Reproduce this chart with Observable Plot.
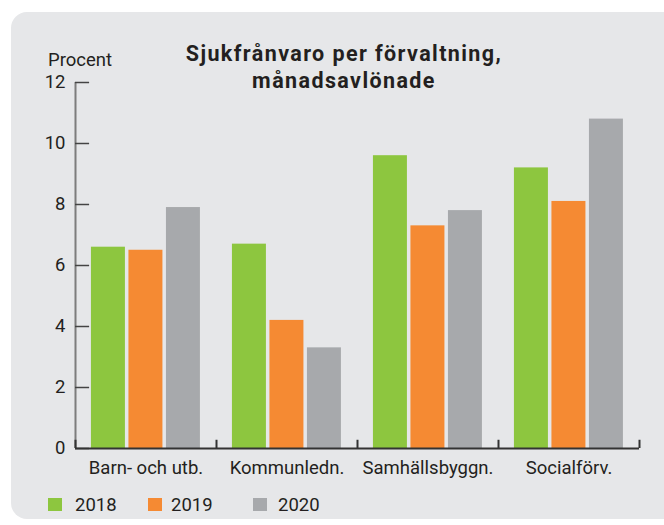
<!DOCTYPE html>
<html>
<head>
<meta charset="utf-8">
<script src="https://cdn.jsdelivr.net/npm/d3@7"></script>
<script src="https://cdn.jsdelivr.net/npm/@observablehq/plot@0.6"></script>
<style>
  html, body { margin: 0; padding: 0; background: #ffffff; }
  #wrap { position: relative; width: 664px; height: 525px; overflow: hidden; font-family: Roboto, sans-serif; color: #231f20; }
  #panel { position: absolute; left: 11px; top: 12px; width: 700px; height: 507px; border-radius: 16px; background: #e6e7e9; }
  #chart { position: absolute; left: 0; top: 0; }
  #title { position: absolute; left: 94px; width: 500px; top: 40px; text-align: center; font-weight: bold; font-size: 21.5px; letter-spacing: 1.4px; line-height: 27px; color: #231f20; white-space: nowrap; }
  #ylab { position: absolute; left: 48px; top: 50px; font-size: 18.5px; line-height: 20px; color: #231f20; }
  #legend { position: absolute; left: 0; top: 0; width: 664px; height: 525px; pointer-events: none; }
  .sw { position: absolute; width: 14px; height: 13px; top: 498px; }
  .lt { position: absolute; top: 495px; font-size: 18.5px; line-height: 20px; color: #231f20; }
</style>
</head>
<body>
<div id="wrap">
  <div id="panel"></div>
  <div id="chart"></div>
  <div id="ylab">Procent</div>
  <div id="title">Sjukfrånvaro per förvaltning,<br>månadsavlönade</div>
  <div id="legend"></div>
</div>
<script>
const categories = ["Barn- och utb.", "Kommunledn.", "Samhällsbyggn.", "Socialförv."];
const years = ["2018", "2019", "2020"];
const values2018 = [6.6, 6.7, 9.6, 9.2];
const values2019 = [6.5, 4.2, 7.3, 8.1];
const values2020 = [7.9, 3.3, 7.8, 10.8];
const yTicks = [0, 2, 4, 6, 8, 10, 12];
const colors = ["#8dc63f", "#f58a33", "#a7a9ac"];

const series = [values2018, values2019, values2020];
// layout within each category band (fractions of the band)
const pad = 0.113, barW = 0.241, gap = 0.025;
const rows = [];
categories.forEach((c, ci) => {
  years.forEach((yr, yi) => {
    const x1 = ci + pad + yi * (barW + gap);
    rows.push({category: c, year: yr, value: series[yi][ci], x1, x2: x1 + barW});
  });
});

const chart = Plot.plot({
  width: 664,
  height: 490,
  marginLeft: 75,
  marginRight: 25,
  marginTop: 82,
  marginBottom: 42,
  style: {fontFamily: "Roboto, sans-serif", fontSize: "18.5px", color: "#231f20", background: "transparent"},
  x: {domain: [0, categories.length], axis: null},
  y: {domain: [0, 12], axis: null},
  color: {domain: years, range: colors},
  marks: [
    Plot.rect(rows, {x1: "x1", x2: "x2", y1: 0, y2: "value", fill: "year"}),
    Plot.ruleX([0], {y1: 0, y2: 12, stroke: "#7d7d7d", strokeWidth: 2}),
    Plot.ruleY(yTicks, {x1: 0, x2: 0.1, stroke: "#444", strokeWidth: 1.5}),
    Plot.ruleY([0], {x1: 0, x2: categories.length, stroke: "#333", strokeWidth: 2}),
    Plot.ruleX(d3.range(categories.length + 1), {y1: 0, y2: 0.27, stroke: "#333", strokeWidth: 2}),
    Plot.axisY({ticks: yTicks, label: null, tickSize: 0, tickPadding: 10, fontSize: 18.5, fill: "#231f20"}),
    Plot.axisX({ticks: categories.map((c, i) => i + 0.5), label: null, tickFormat: d => categories[Math.round(d - 0.5)], tickSize: 0, tickPadding: 12, fontSize: 18.5, fill: "#231f20"})
  ]
});
document.getElementById("chart").appendChild(chart);

const legend = document.getElementById("legend");
const swLeft = [48, 148, 253];
const txtLeft = [75, 171, 278];
years.forEach((yr, i) => {
  const sw = document.createElement("div");
  sw.className = "sw";
  sw.style.left = swLeft[i] + "px";
  sw.style.background = colors[i];
  legend.appendChild(sw);
  const t = document.createElement("div");
  t.className = "lt";
  t.style.left = txtLeft[i] + "px";
  t.textContent = yr;
  legend.appendChild(t);
});
</script>
</body>
</html>
